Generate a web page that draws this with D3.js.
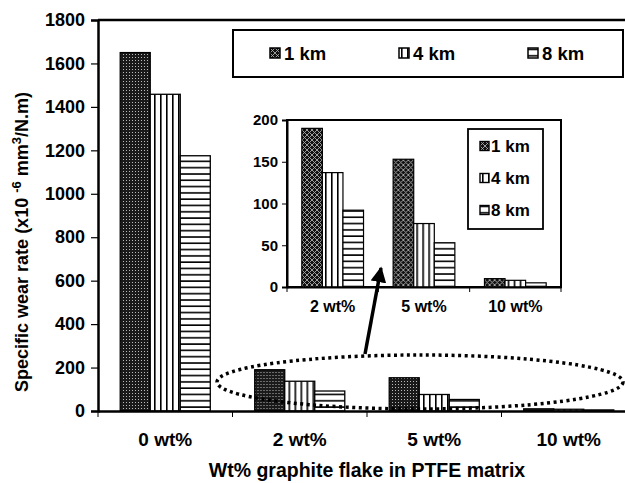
<!DOCTYPE html>
<html>
<head>
<meta charset="utf-8">
<script src="https://cdn.jsdelivr.net/npm/d3@7"></script>
<style>
  body { margin: 0; background: #fff; }
  svg text { font-family: "Liberation Sans", Arial, sans-serif; font-weight: bold; fill: #000; }
</style>
</head>
<body>
<svg id="svg1" width="625" height="483"></svg>
<script>
// data
const categories = ["0 wt%", "2 wt%", "5 wt%", "10 wt%"];
const series = ["1 km", "4 km", "8 km"];
const km1 = [1650, 190, 153, 10];
const km4 = [1458, 137, 76, 8];
const km8 = [1175, 92, 53, 5];
const yTicks = [0, 200, 400, 600, 800, 1000, 1200, 1400, 1600, 1800];

const insetCategories = ["2 wt%", "5 wt%", "10 wt%"];
const insetTicks = [0, 50, 100, 150, 200];

const values = [km1, km4, km8];
const rows = categories.map((c, i) => ({ cat: c, vals: series.map((s, j) => ({ s: s, v: values[j][i] })) }));

const svg1 = d3.select("#svg1");

/* patterns */
const defs = svg1.append("defs");
const dots = defs.append("pattern").attr("id", "dots").attr("patternUnits", "userSpaceOnUse")
  .attr("width", 3).attr("height", 3);
dots.append("rect").attr("width", 3).attr("height", 3).attr("fill", "#1a1a1a");
dots.append("rect").attr("x", 1).attr("y", 1).attr("width", 1).attr("height", 1).attr("fill", "#bbb");

const xh = defs.append("pattern").attr("id", "xhatch").attr("patternUnits", "userSpaceOnUse")
  .attr("width", 5).attr("height", 5);
xh.append("rect").attr("width", 5).attr("height", 5).attr("fill", "#111");
xh.append("path").attr("d", "M0,0L5,5M5,0L0,5").attr("stroke", "#aaa").attr("stroke-width", 0.9);

const vs = defs.append("pattern").attr("id", "vstripe").attr("patternUnits", "userSpaceOnUse")
  .attr("width", 6).attr("height", 6);
vs.append("rect").attr("width", 6).attr("height", 6).attr("fill", "#fff");
vs.append("rect").attr("x", 2).attr("width", 1.6).attr("height", 6).attr("fill", "#000");

const hs = defs.append("pattern").attr("id", "hstripe").attr("patternUnits", "userSpaceOnUse")
  .attr("width", 6).attr("height", 6.3);
hs.append("rect").attr("width", 6).attr("height", 6.3).attr("fill", "#fff");
hs.append("rect").attr("y", 2).attr("width", 6).attr("height", 1.6).attr("fill", "#000");

const fillMain = { "1 km": "url(#dots)", "4 km": "url(#vstripe)", "8 km": "url(#hstripe)" };
const fillInset = { "1 km": "url(#xhatch)", "4 km": "url(#vstripe)", "8 km": "url(#hstripe)" };

/* ---------- main chart ---------- */
const margin = { top: 20, left: 98 };
const innerHeight = 411 - margin.top;
const x = d3.scaleBand().domain(categories).range([0, 538]);
const xSub = d3.scaleBand().domain(series).range([0, x.bandwidth()]).paddingOuter(0.74);
const y = d3.scaleLinear().domain([0, 1800]).range([innerHeight, 0]);

const a = svg1.append("g").attr("transform", `translate(${margin.left}, ${margin.top})`);

a.selectAll("g.grp").data(rows).enter().append("g")
  .attr("transform", d => `translate(${x(d.cat)},0)`)
  .selectAll("rect").data(d => d.vals).enter().append("rect")
    .attr("x", d => xSub(d.s))
    .attr("width", xSub.bandwidth())
    .attr("y", d => y(d.v))
    .attr("height", d => innerHeight - y(d.v))
    .attr("fill", d => fillMain[d.s])
    .attr("stroke", "#000").attr("stroke-width", 1.3);

// frame top
a.append("line").attr("x1", 0).attr("x2", 540).attr("y1", 0).attr("y2", 0)
  .attr("stroke", "#000").attr("stroke-width", 2.5);

const yAxisA = a.append("g")
  .call(d3.axisLeft(y).tickValues(yTicks).tickFormat(d3.format("d")).tickSize(7).tickPadding(6));
yAxisA.selectAll("text").style("font-size", "18px");

const xAxisA = a.append("g").attr("transform", `translate(0, ${innerHeight})`)
  .call(d3.axisBottom(x).tickSize(0).tickPadding(22));
xAxisA.selectAll("text").style("font-size", "19px");
// category boundary ticks
xAxisA.selectAll("line.sep").data(categories).enter().append("line")
  .attr("x1", d => x(d)).attr("x2", d => x(d)).attr("y1", 0).attr("y2", 6)
  .attr("stroke", "#000").attr("stroke-width", 1);

[yAxisA, xAxisA].forEach(g => {
  g.select(".domain").attr("stroke-width", 2.5);
  g.selectAll(".tick line").attr("stroke-width", 1.2);
});

// axis titles
svg1.append("text").attr("x", 367).attr("y", 477).attr("text-anchor", "middle")
  .style("font-size", "19.5px").text("Wt% graphite flake in PTFE matrix");

const yt = svg1.append("text").attr("transform", "translate(28,242) rotate(-90)")
  .attr("text-anchor", "middle").style("font-size", "18px");
yt.append("tspan").text("Specific wear rate (x10 ");
yt.append("tspan").attr("dy", -7).style("font-size", "13px").text("-6");
yt.append("tspan").attr("dy", 7).text(" mm");
yt.append("tspan").attr("dy", -7).style("font-size", "13px").text("3");
yt.append("tspan").attr("dy", 7).text("/N.m)");

// main legend
const leg = svg1.append("g");
leg.append("rect").attr("x", 233).attr("y", 30).attr("width", 390).attr("height", 47)
  .attr("fill", "#fff").attr("stroke", "#000").attr("stroke-width", 2);
const legX = d3.scalePoint().domain(series).range([270, 528]);
const li = leg.selectAll("g.li").data(series).enter().append("g")
  .attr("transform", d => `translate(${legX(d)},53)`);
li.append("rect").attr("x", 0).attr("y", -5).attr("width", 10).attr("height", 10)
  .attr("fill", d => fillInset[d]).attr("stroke", "#000").attr("stroke-width", 1.5);
li.append("text").attr("x", 14).attr("dy", "0.36em").style("font-size", "18.5px").text(d => d);

/* ---------- ellipse ---------- */
svg1.append("ellipse").attr("cx", 420).attr("cy", 382).attr("rx", 203).attr("ry", 27)
  .attr("fill", "none").attr("stroke", "#000").attr("stroke-width", 3.5)
  .attr("stroke-dasharray", "3,3.5");

/* ---------- inset chart ---------- */
const ins = { left: 287, top: 120, w: 274, h: 167 };
const xi = d3.scaleBand().domain(insetCategories).range([0, ins.w]);
const xiSub = d3.scaleBand().domain(series).range([0, xi.bandwidth()]).paddingOuter(0.72);
const yi = d3.scaleLinear().domain([0, 200]).range([ins.h, 0]);
const b = svg1.append("g").attr("transform", `translate(${ins.left}, ${ins.top})`);

b.append("rect").attr("width", ins.w).attr("height", ins.h).attr("fill", "#fff")
  .attr("stroke", "#000").attr("stroke-width", 2);

b.selectAll("g.grp").data(rows.slice(1)).enter().append("g")
  .attr("transform", d => `translate(${xi(d.cat)},0)`)
  .selectAll("rect").data(d => d.vals).enter().append("rect")
    .attr("x", d => xiSub(d.s))
    .attr("width", xiSub.bandwidth())
    .attr("y", d => yi(d.v))
    .attr("height", d => ins.h - yi(d.v))
    .attr("fill", d => fillInset[d.s])
    .attr("stroke", "#000").attr("stroke-width", 1.2);

const yiA = b.append("g").call(d3.axisLeft(yi).tickValues(insetTicks).tickSize(5).tickPadding(4));
yiA.selectAll("text").style("font-size", "15px");
const xiA = b.append("g").attr("transform", `translate(0, ${ins.h})`)
  .call(d3.axisBottom(xi).tickSize(0).tickPadding(14));
xiA.selectAll("text").style("font-size", "16px");
xiA.selectAll("line.sep").data(insetCategories.concat(["end"])).enter().append("line")
  .attr("x1", (d, i) => i * xi.step()).attr("x2", (d, i) => i * xi.step())
  .attr("y1", 0).attr("y2", 5).attr("stroke", "#000").attr("stroke-width", 1);
[yiA, xiA].forEach(g => g.select(".domain").attr("stroke-width", 2));

// inset legend
const il = b.append("g").attr("transform", "translate(181, 9)");
il.append("rect").attr("width", 75).attr("height", 100).attr("fill", "#fff")
  .attr("stroke", "#000").attr("stroke-width", 1.8);
const ilY = d3.scalePoint().domain(series).range([17, 81]);
const ili = il.selectAll("g.li").data(series).enter().append("g")
  .attr("transform", d => `translate(12, ${ilY(d)})`);
ili.append("rect").attr("y", -4.5).attr("width", 9).attr("height", 9)
  .attr("fill", d => fillInset[d]).attr("stroke", "#000").attr("stroke-width", 1.4);
ili.append("text").attr("x", 11).attr("dy", "0.36em").style("font-size", "17px").text(d => d);

/* ---------- arrow into the inset ---------- */
defs.append("marker").attr("id", "head").attr("viewBox", "0 0 10 10")
  .attr("refX", 9).attr("refY", 5).attr("markerWidth", 4.5).attr("markerHeight", 4.5)
  .attr("orient", "auto").append("path").attr("d", "M0,0L10,5L0,10Z").attr("fill", "#000");
svg1.append("line").attr("x1", 365).attr("y1", 354).attr("x2", 381).attr("y2", 268)
  .attr("stroke", "#000").attr("stroke-width", 3.5).attr("marker-end", "url(#head)");
</script>
</body>
</html>
